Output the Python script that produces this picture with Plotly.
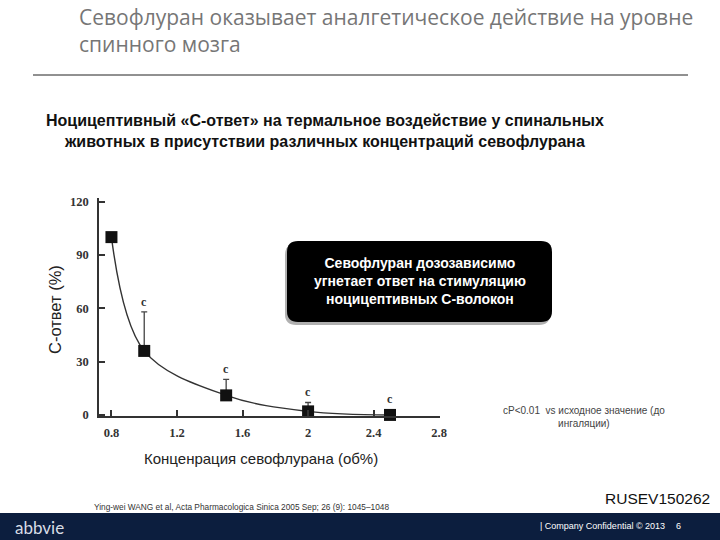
import plotly.graph_objects as go

# ---- data ----
concentration = [0.8, 1.0, 1.5, 2.0, 2.5]
c_response = [100, 36, 11, 2, 0]
err_plus = [0, 22, 9, 5, 0]
sig_labels = ["", "c", "c", "c", "c"]
x_tickvals = [0.8, 1.2, 1.6, 2.0, 2.4, 2.8]
x_ticktext = ["0.8", "1.2", "1.6", "2", "2.4", "2.8"]
y_tickvals = [0, 30, 60, 90, 120]

# ---- plot-area geometry (pixels) ----
L, R, T, B = 99, 440, 198, 416
W, H = R - L, B - T


def px(x):
    return (x - L) / W


def py(y):
    return (B - y) / H


fig = go.Figure()
fig.add_trace(go.Scatter(
    x=concentration, y=c_response,
    mode="lines+markers",
    line=dict(color="#333333", width=1.4, shape="spline", smoothing=1.0),
    marker=dict(symbol="square", size=12, color="#111111"),
    error_y=dict(type="data", array=err_plus, arrayminus=[0] * len(err_plus),
                 symmetric=False, color="#444444", thickness=1.3, width=3),
    cliponaxis=False,
    hoverinfo="skip",
))

annotations = []
for xv, yv, ev, lab in zip(concentration, c_response, err_plus, sig_labels):
    if lab:
        annotations.append(dict(x=xv, y=yv + ev, xref="x", yref="y", text="<b>" + lab + "</b>",
                                showarrow=False, yanchor="bottom", yshift=1 if ev else 7,
                                font=dict(family="Liberation Serif", size=12, color="#333333")))


def ann(x, y, text, size, color="#222222", family="Liberation Sans", xanchor="center", align="center"):
    annotations.append(dict(x=px(x), y=py(y), xref="paper", yref="paper", text=text,
                            showarrow=False, xanchor=xanchor, yanchor="middle", align=align,
                            font=dict(family=family, size=size, color=color)))


# title
ann(77, 30, "Севофлуран оказывает аналгетическое действие на уровне<br>спинного мозга",
    21, color="#767676", family="Open Sans", xanchor="left", align="left")
# subtitle
ann(325, 131, "<b>Ноцицептивный «С-ответ» на термальное воздействие у спинальных<br>"
              "животных в присутствии различных концентраций севофлурана</b>", 16, color="#111111")
# axis titles
annotations.append(dict(x=px(55), y=py(310), xref="paper", yref="paper", text="С-ответ (%)",
                        showarrow=False, textangle=-90, xanchor="center", yanchor="middle",
                        font=dict(family="Liberation Sans", size=16.5, color="#222222")))
ann(261, 458, "Конценрация севофлурана (об%)", 15)
# footnote
ann(584, 417, "cP&lt;0.01  vs исходное значение (до<br>ингаляции)", 10, color="#444444")
# box text
ann(420, 281, "<b>Севофлуран дозозависимо<br>угнетает ответ на стимуляцию<br>ноцицептивных С-волокон</b>",
    14, color="#ffffff")
# footer
ann(92, 507, "Ying-wei WANG et al, Acta Pharmacologica Sinica 2005 Sep; 26 (9): 1045–1048", 8.3,
    color="#333333", xanchor="left")
ann(712, 498, "RUSEV150262", 15.5, color="#111111", xanchor="right")
ann(13, 527, "abbvie", 17, color="#d8dde6", family="Lato", xanchor="left")
ann(538, 526, "| Company Confidential © 2013", 9, color="#ffffff", xanchor="left")
ann(678, 526, "6", 9, color="#ffffff")


def rounded_path(x0, y0, x1, y1, r):
    rx, ry = r / W, r / H
    a, b, c, d = px(x0), py(y1), px(x1), py(y0)  # left, bottom, right, top in paper
    return (f"M{a + rx},{b} L{c - rx},{b} Q{c},{b} {c},{b + ry} L{c},{d - ry} Q{c},{d} {c - rx},{d} "
            f"L{a + rx},{d} Q{a},{d} {a},{d - ry} L{a},{b + ry} Q{a},{b} {a + rx},{b} Z")


shapes = [
    # rule under title
    dict(type="line", xref="paper", yref="paper", x0=px(33), x1=px(688), y0=py(75), y1=py(75),
         line=dict(color="#222222", width=1)),
    # footer band
    dict(type="rect", xref="paper", yref="paper", x0=px(0), x1=px(720), y0=py(513), y1=py(541),
         fillcolor="#0c1e3e", line=dict(width=0), layer="below"),
    # box shadow and box
    dict(type="path", xref="paper", yref="paper", path=rounded_path(285, 244, 550, 325, 11),
         fillcolor="#b0b0b0", line=dict(width=0)),
    dict(type="path", xref="paper", yref="paper", path=rounded_path(287, 241, 552, 322, 11),
         fillcolor="#000000", line=dict(width=0)),
]

axis_font = dict(family="Liberation Serif", size=12.5, color="#333333", weight="bold")
fig.update_layout(
    width=720, height=540,
    margin=dict(l=L, r=720 - R, t=T, b=540 - B, pad=0),
    paper_bgcolor="#ffffff", plot_bgcolor="#ffffff",
    showlegend=False,
    annotations=annotations,
    shapes=shapes,
    xaxis=dict(range=[0.724, 2.805], tickvals=x_tickvals, ticktext=x_ticktext,
               showgrid=False, zeroline=False, showline=True, linecolor="#333333", linewidth=1.5,
               ticks="inside", ticklen=6, tickwidth=1.5, tickcolor="#333333",
               tickfont=axis_font, ticklabelstandoff=4),
    yaxis=dict(range=[-0.6, 122], tickvals=y_tickvals,
               showgrid=False, zeroline=False, showline=True, linecolor="#333333", linewidth=1.5,
               ticks="inside", ticklen=6, tickwidth=1.5, tickcolor="#333333",
               tickfont=axis_font, ticklabelstandoff=6),
)

fig.write_html("out.html", config={"displayModeBar": False},
               post_script="document.body.style.margin='0';document.body.style.overflow='hidden';")
